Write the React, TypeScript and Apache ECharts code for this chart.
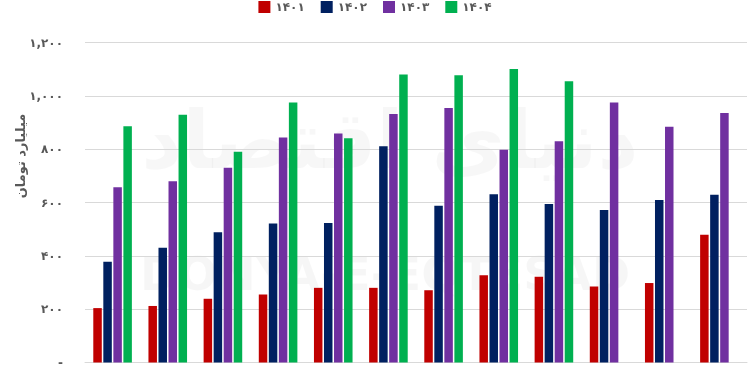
import React, { useEffect, useRef } from "react";
import * as echarts from "echarts";

const months = ["فروردین", "اردیبهشت", "خرداد", "تیر", "مرداد", "شهریور", "مهر", "آبان", "آذر", "دی", "بهمن", "اسفند"];
const seriesNames = ["۱۴۰۱", "۱۴۰۲", "۱۴۰۳", "۱۴۰۴"];
const colors = ["#C00000", "#002060", "#7030A0", "#00B050"];
const y1401 = [204, 212, 239, 255, 280, 280, 271, 327, 322, 285, 298, 479];
const y1402 = [378, 430, 488, 521, 523, 811, 588, 631, 594, 572, 609, 629];
const y1403 = [657, 680, 730, 844, 859, 932, 954, 798, 830, 975, 884, 936];
const y1404 = [886, 929, 790, 975, 841, 1080, 1077, 1101, 1055, null, null, null];
const yTicks = [0, 200, 400, 600, 800, 1000, 1200];
const yAxisTitle = "میلیارد تومان";

const toPersian = (v: number): string => {
  if (v === 0) return "-";
  const s = v.toLocaleString("en-US");
  return s.replace(/\d/g, (d) => String.fromCharCode(0x06f0 + Number(d)));
};

export default function App() {
  const ref = useRef<HTMLDivElement>(null);
  useEffect(() => {
    if (!ref.current) return;
    const chart = echarts.init(ref.current, undefined, { renderer: "svg" });
    const data = [y1401, y1402, y1403, y1404];
    chart.setOption({
      animation: false,
      textStyle: { fontFamily: "DejaVu Sans" },
      legend: {
        top: -4,
        left: "center",
        itemWidth: 12,
        itemHeight: 12,
        itemGap: 16,
        icon: "rect",
        textStyle: { color: "#595959", fontSize: 12, fontWeight: "bold", fontFamily: "DejaVu Sans" },
        data: seriesNames,
      },
      grid: { left: 85, right: 3, top: 42.5, bottom: 12.5, containLabel: false },
      graphic: [
        {
          type: "text",
          x: 20,
          y: 156,
          rotation: Math.PI / 2,
          style: {
            text: yAxisTitle,
            fill: "#595959",
            font: "bold 13px 'DejaVu Sans'",
            align: "center",
            verticalAlign: "middle",
          },
        },
        {
          type: "text",
          x: 385,
          y: 274,
          z: -10,
          style: {
            text: "DONYA-E-EQTESAD",
            fill: "rgba(0,0,0,0.035)",
            font: "bold 46px 'DejaVu Sans'",
            align: "center",
            verticalAlign: "middle",
          },
        },
        {
          type: "text",
          x: 390,
          y: 140,
          z: -10,
          style: {
            text: "دنیای اقتصاد",
            fill: "rgba(0,0,0,0.03)",
            font: "bold 80px 'DejaVu Sans'",
            align: "center",
            verticalAlign: "middle",
          },
        },
      ],
      xAxis: {
        type: "category",
        data: months,
        axisLine: { show: true, lineStyle: { color: "#D9D9D9" } },
        axisTick: { show: false },
        axisLabel: { show: false },
      },
      yAxis: {
        type: "value",
        min: yTicks[0],
        max: yTicks[yTicks.length - 1],
        interval: 200,
        axisLine: { show: false },
        axisTick: { show: false },
        splitLine: { lineStyle: { color: "#D9D9D9", width: 1 } },
        axisLabel: {
          margin: 22,
          color: "#595959",
          fontSize: 12,
          fontWeight: "bold",
          fontFamily: "DejaVu Sans",
          formatter: (v: number) => toPersian(v),
        },
      },
      series: seriesNames.map((name, i) => ({
        name,
        type: "bar",
        data: data[i],
        barWidth: 8.5,
        barGap: "18%",
        itemStyle: { color: colors[i] },
      })),
    });
    return () => chart.dispose();
  }, []);
  return <div ref={ref} style={{ width: 750, height: 375, position: "fixed", left: 0, top: 0 }} />;
}
